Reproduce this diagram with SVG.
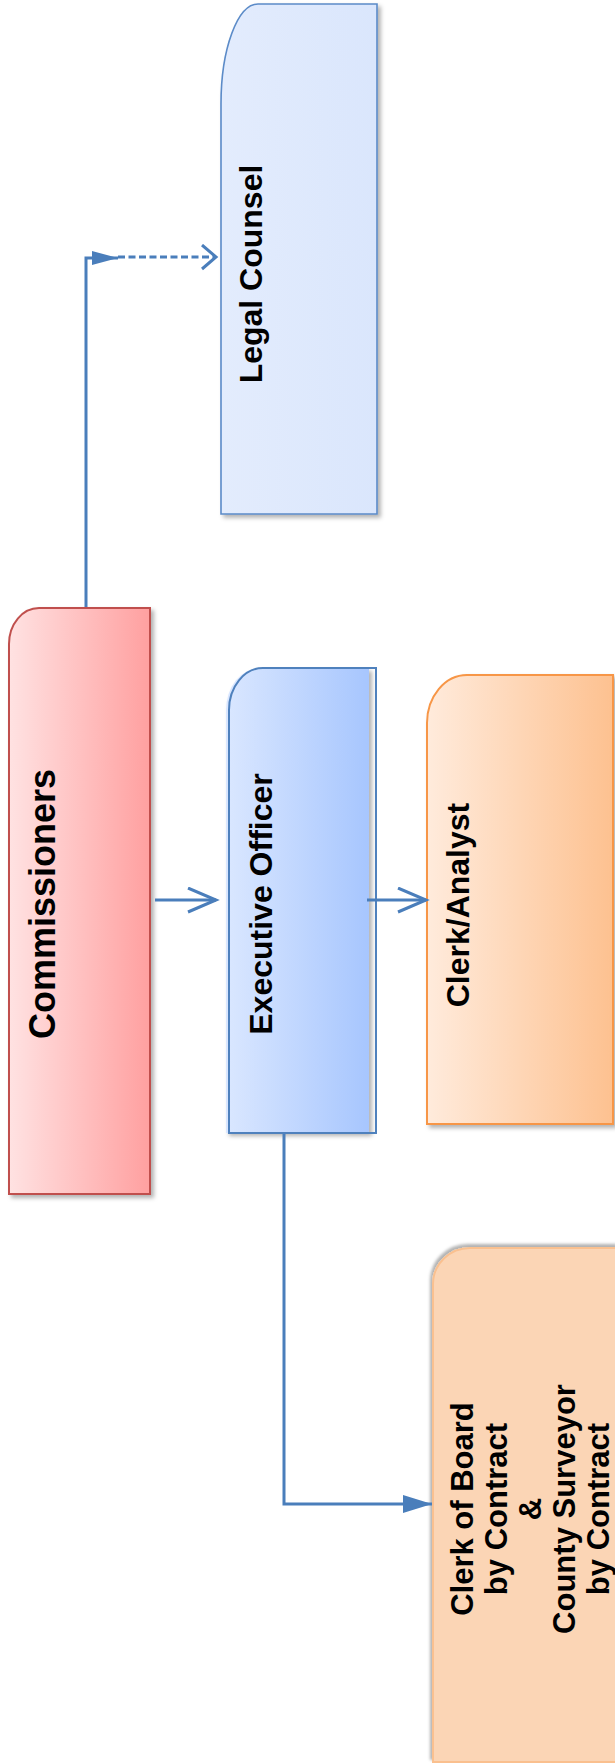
<svg xmlns="http://www.w3.org/2000/svg" width="615" height="1764" viewBox="0 0 615 1764">
  <style>
    .lbl { font-family: "Liberation Sans", Arial, sans-serif; font-weight: bold; fill: #000; text-anchor: middle; }
    .conn { fill: none; stroke: #4a7ebb; stroke-width: 3; }
  </style>
  <defs>
    <linearGradient id="gRed" x1="0" y1="0" x2="1" y2="0">
      <stop offset="0" stop-color="#ffe2e2"/>
      <stop offset="1" stop-color="#ffa0a0"/>
    </linearGradient>
    <linearGradient id="gBlue" x1="0" y1="0" x2="1" y2="0">
      <stop offset="0" stop-color="#dae7ff"/>
      <stop offset="1" stop-color="#a7c6fe"/>
    </linearGradient>
    <linearGradient id="gOrange" x1="0" y1="0" x2="1" y2="0">
      <stop offset="0" stop-color="#ffebdc"/>
      <stop offset="1" stop-color="#fdc190"/>
    </linearGradient>
    <linearGradient id="gLight" x1="0" y1="0" x2="1" y2="0">
      <stop offset="0" stop-color="#e3ecfd"/>
      <stop offset="1" stop-color="#dae6fc"/>
    </linearGradient>
    <filter id="sh" x="-10%" y="-10%" width="130%" height="130%">
      <feDropShadow dx="3" dy="3" stdDeviation="2" flood-color="#000" flood-opacity="0.3"/>
    </filter>
    <filter id="shUp" x="-10%" y="-10%" width="130%" height="130%">
      <feDropShadow dx="-2" dy="-3" stdDeviation="1.5" flood-color="#000" flood-opacity="0.3"/>
    </filter>
    <marker id="openLong" markerUnits="userSpaceOnUse" markerWidth="34" markerHeight="30" refX="29" refY="13" orient="auto">
      <path d="M1,1 L29,13 L1,25" fill="none" stroke="#4a7ebb" stroke-width="3"/>
    </marker>
    <marker id="openShort" markerUnits="userSpaceOnUse" markerWidth="20" markerHeight="30" refX="15" refY="13" orient="auto">
      <path d="M1,1 L15,13 L1,25" fill="none" stroke="#4a7ebb" stroke-width="3"/>
    </marker>
    <marker id="fillBig" markerUnits="userSpaceOnUse" markerWidth="32" markerHeight="20" refX="29" refY="9" orient="auto">
      <path d="M0,0 L29,9 L0,18 Z" fill="#4a7ebb"/>
    </marker>
    <marker id="fillSmall" markerUnits="userSpaceOnUse" markerWidth="28" markerHeight="16" refX="26" refY="7" orient="auto">
      <path d="M0,0 L26,7 L0,14 Z" fill="#4a7ebb"/>
    </marker>
  </defs>

  <rect width="615" height="1764" fill="#ffffff"/>

  <g id="legal-counsel">
    <path d="M258,4 H377 V514 H221 V104 A37,100 0 0 1 258,4 Z" fill="url(#gLight)" stroke="#5b8bc8" stroke-width="1.6" filter="url(#sh)"/>
    <text class="lbl" font-size="32" transform="translate(262,274) rotate(-90)">Legal Counsel</text>
  </g>

  <g id="commissioners">
    <path d="M39,608 H150 V1194 H9 V644 A30,36 0 0 1 39,608 Z" fill="url(#gRed)" stroke="#c0504d" stroke-width="2" filter="url(#sh)"/>
    <text class="lbl" font-size="36" transform="translate(55,904) rotate(-90)">Commissioners</text>
  </g>

  <g id="executive-officer">
    <path d="M260,668 H369 V1133 H226 V710 A34,42 0 0 1 260,668 Z" fill="url(#gBlue)" filter="url(#sh)"/>
    <path d="M263,668 H376 V1133 H229 V710 A34,42 0 0 1 263,668 Z" fill="none" stroke="#4f81bd" stroke-width="2"/>
    <text class="lbl" font-size="32" transform="translate(272,904) rotate(-90)">Executive Officer</text>
  </g>

  <g id="clerk-analyst">
    <path d="M467,675 H613 V1124 H427 V723 A40,48 0 0 1 467,675 Z" fill="url(#gOrange)" stroke="#f79646" stroke-width="2" filter="url(#sh)"/>
    <text class="lbl" font-size="32" transform="translate(469,905) rotate(-90)">Clerk/Analyst</text>
  </g>

  <g id="clerk-of-board">
    <path d="M470,1248 H618 V1762 H433 V1284 A37,36 0 0 1 470,1248 Z" fill="#fbd5b5" stroke="#fac08f" stroke-width="2" filter="url(#shUp)"/>
    <text class="lbl" font-size="31" transform="translate(473,1509) rotate(-90)">Clerk of Board</text>
    <text class="lbl" font-size="31" transform="translate(507,1509) rotate(-90)">by Contract</text>
    <text class="lbl" font-size="31" transform="translate(541,1509) rotate(-90)">&amp;</text>
    <text class="lbl" font-size="31" transform="translate(575,1509) rotate(-90)">County Surveyor</text>
    <text class="lbl" font-size="31" transform="translate(609,1509) rotate(-90)">by Contract</text>
  </g>

  <g id="connectors">
    <path class="conn" d="M86,607 V258 H118" marker-end="url(#fillSmall)"/>
    <path class="conn" d="M118,257 H216" stroke-dasharray="7,3.5" marker-end="url(#openShort)"/>
    <path class="conn" d="M155,900 H216" marker-end="url(#openLong)"/>
    <path class="conn" d="M367,900 H426" marker-end="url(#openLong)"/>
    <path class="conn" d="M284,1134 V1504 H432" marker-end="url(#fillBig)"/>
  </g>
</svg>
